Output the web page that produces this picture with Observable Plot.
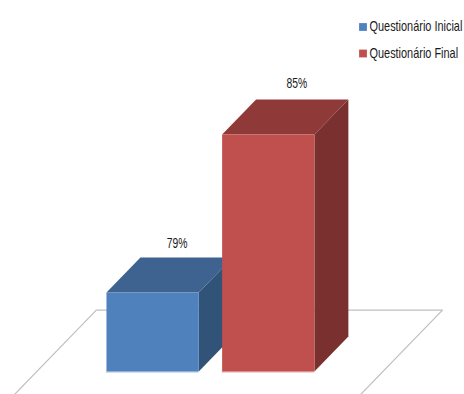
<!DOCTYPE html>
<html>
<head>
<meta charset="utf-8">
<script src="https://cdn.jsdelivr.net/npm/d3@7"></script>
<script src="https://cdn.jsdelivr.net/npm/@observablehq/plot@0.6"></script>
<style>
  html, body { margin: 0; padding: 0; background: #fff; }
  svg { display: block; }
</style>
</head>
<body>
<div id="chart"></div>
<script>
// Questionnaire results, in percent
const series = ["Questionário Inicial", "Questionário Final"];
const values = [79, 85];
const labels = ["79%", "85%"];

// Shading of each bar: front, top and side faces
const frontColors = ["#4f81bd", "#c0504d"];
const topColors = ["#3e6391", "#8f3a38"];
const sideColors = ["#325378", "#7b3030"];

// Bar layout in axis units: bars are one unit wide, the value axis starts at the floor
const floorValue = 76;
const barPitch = 1.253;
const depthX = 0.368;
const depthY = 1.33;
const floorBackY = floorValue + 2.33;
const floorLeft = -0.11;
const floorRight = 3.64;
const floorFront = floorValue - 1.2;

const faces = series.flatMap((name, i) => {
  const x0 = i * barPitch, x1 = x0 + 1, v = values[i];
  const poly = (face, color, pts) => pts.map(([x, y]) => ({id: `${name}-${face}`, color, x, y}));
  return [
    ...poly("top", topColors[i], [[x0, v], [x1, v], [x1 + depthX, v + depthY], [x0 + depthX, v + depthY]]),
    ...poly("side", sideColors[i], [[x1, floorValue], [x1 + depthX, floorValue + depthY], [x1 + depthX, v + depthY], [x1, v]]),
    ...poly("front", frontColors[i], [[x0, floorValue], [x1, floorValue], [x1, v], [x0, v]])
  ];
});

// The floor is a parallelogram whose near edge falls below the frame
const floorDrop = floorBackY - floorFront;
const floorSlant = floorDrop * depthX / depthY;
const floorEdge = [
  {x: floorLeft - floorSlant, y: floorFront},
  {x: floorLeft, y: floorBackY},
  {x: floorRight, y: floorBackY},
  {x: floorRight - floorSlant, y: floorFront}
];

const bars = series.map((name, i) => ({name, i, value: values[i], label: labels[i], x: i * barPitch + 0.5}));
const labelFont = {fontFamily: "'Liberation Sans', sans-serif", fill: "#1a1a1a"};

const chart = Plot.plot({
  width: 464,
  height: 394,
  margin: 0,
  x: {axis: null, type: "linear", domain: [-1.148, 3.879], range: [0, 464]},
  y: {axis: null, type: "linear", domain: [75.127, 90.09], range: [394, 0]},
  marks: [
    Plot.line(floorEdge, {x: "x", y: "y", stroke: "#bfbfbf", strokeWidth: 1.2, clip: true}),
    Plot.line(faces, {x: "x", y: "y", z: "id", fill: "color", stroke: null, curve: "linear-closed"}),
    // Pale highlight along the foot of each bar
    ...bars.map(b => Plot.ruleY([floorValue], {
      x1: b.x - 0.5, x2: b.x + 0.5, stroke: frontColors[b.i], strokeOpacity: 0.5, strokeWidth: 1, dy: 0.5
    })),
    // Value labels above each bar
    ...bars.map((b, i) => Plot.text([b], {
      x: "x", y: "value", text: "label", dx: [24.5, 28.5][i], dy: [-49, -51][i],
      fontSize: 14, ...labelFont
    })),
    // Legend in the upper right corner
    ...series.map((name, i) => Plot.dot([name], {
      frameAnchor: "top-left", dx: 362.5, dy: 26.5 + i * 26.5,
      symbol: "square", r: 4.4, fill: frontColors[i], stroke: null
    })),
    ...series.map((name, i) => Plot.text([name], {
      frameAnchor: "top-left", textAnchor: "start", lineAnchor: "middle",
      dx: 369, dy: 26.5 + i * 26.5, fontSize: 14, ...labelFont
    }))
  ]
});
document.getElementById("chart").append(chart);

// All chart text is set in a condensed width, the legend slightly wider than the value labels
d3.select(chart).selectAll("text").each(function() {
  const condense = series.includes(this.textContent) ? 0.78 : 0.74;
  const placed = this.getAttribute("transform") || "";
  this.setAttribute("transform", `${placed} scale(${condense},1)`);
});
</script>
</body>
</html>
